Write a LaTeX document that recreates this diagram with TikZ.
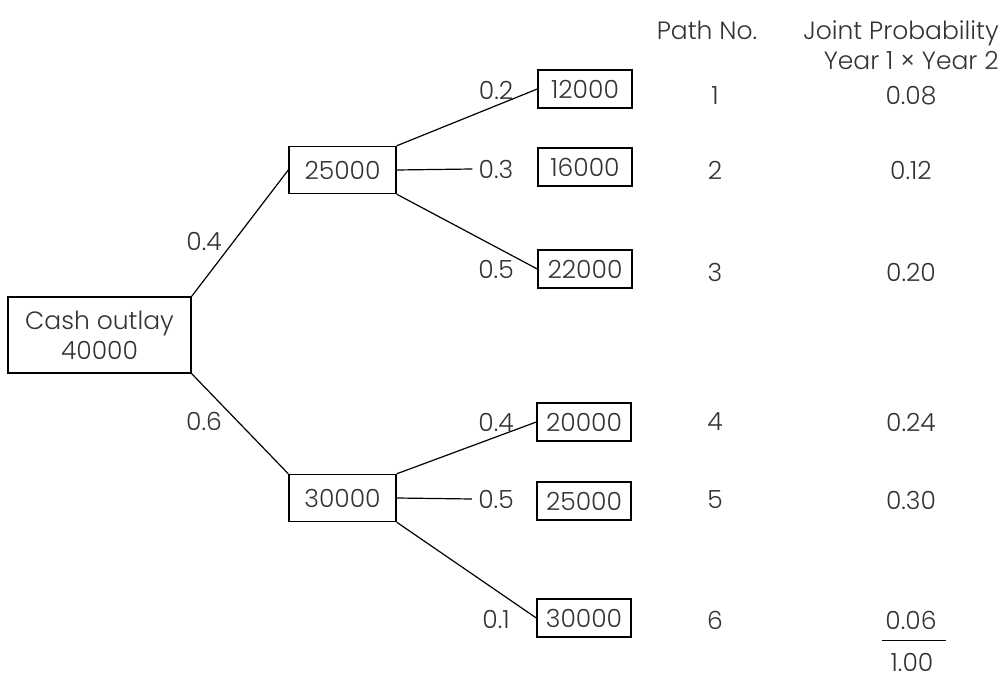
\documentclass[tikz,border=0pt]{standalone}
\usepackage{fontspec}
\setmainfont{Poppins}[UprightFont=* Light]
\usetikzlibrary{positioning}

\begin{document}
\begin{tikzpicture}[
  x=0.5pt,y=-0.5pt,
  font=\fontsize{12.5}{15}\selectfont, text=black!80,
  box/.style={draw,line width=0.7pt,inner sep=0pt,align=center},
  yr1/.style={box,minimum width=53.5pt,minimum height=23.5pt},
  yr2/.style={box,minimum width=47pt,minimum height=19pt},
  pr/.style={inner sep=3pt},
  br/.style={line width=0.6pt}]
  \useasboundingbox (0,0) rectangle (1006,679);
  % year 0
  \node[box,minimum width=91.5pt,minimum height=38pt] (cash) at (99.5,335) {Cash outlay\\40000};
  % year 1
  \node[yr1] (ya) at (342.5,170) {25000};
  \node[yr1] (yb) at (342.5,498) {30000};
  \node[pr] (pa) at (204,241) {0.4};
  \node[pr] (pb) at (204,421) {0.6};
  % year 2
  \node[yr2] (n1) at (585,89) {12000};
  \node[yr2] (n2) at (585,167) {16000};
  \node[yr2] (n3) at (585,269) {22000};
  \node[yr2] (n4) at (584,422) {20000};
  \node[yr2] (n5) at (584,501) {25000};
  \node[yr2] (n6) at (584,618) {30000};
  \node[pr] (p1) at (496,90) {0.2};
  \node[pr] (p2) at (496,169) {0.3};
  \node[pr] (p3) at (496,269) {0.5};
  \node[pr] (p4) at (496,422) {0.4};
  \node[pr] (p5) at (496,499) {0.5};
  \node[pr] (p6) at (496,619) {0.1};
  % table
  \node (hpath) at (707,30) {Path No.};
  \node[align=right] (hjoint) at (901,45) {Joint Probability\\Year 1 × Year 2};
  \node (k1) at (715,96) {1};   \node (j1) at (911,96) {0.08};
  \node (k2) at (715,170) {2};  \node (j2) at (911,170) {0.12};
  \node (k3) at (715,272) {3};  \node (j3) at (911,272) {0.20};
  \node (k4) at (715,422) {4};  \node (j4) at (911,422) {0.24};
  \node (k5) at (715,500) {5};  \node (j5) at (911,500) {0.30};
  \node (k6) at (715,620) {6};  \node (j6) at (911,620) {0.06};
  \node[inner sep=2pt] (tot) at (912,662) {1.00};
  \draw[line width=0.8pt] (tot.north west) ++(-4,-8) coordinate (sa) -- (sa -| tot.north east) -- ++(8,0);
  % branches
  \draw[br] (cash.north east) -- (ya.west);
  \draw[br] (cash.south east) -- (yb.north west);
  \draw[br] (ya.north east) -- (n1.west);
  \draw[br] (ya.east) -- (p2.west);
  \draw[br] (ya.south east) -- (n3.west);
  \draw[br] (yb.north east) -- (n4.west);
  \draw[br] (yb.east) -- (p5.west);
  \draw[br] (yb.south east) -- (n6.west);
\end{tikzpicture}
\end{document}
